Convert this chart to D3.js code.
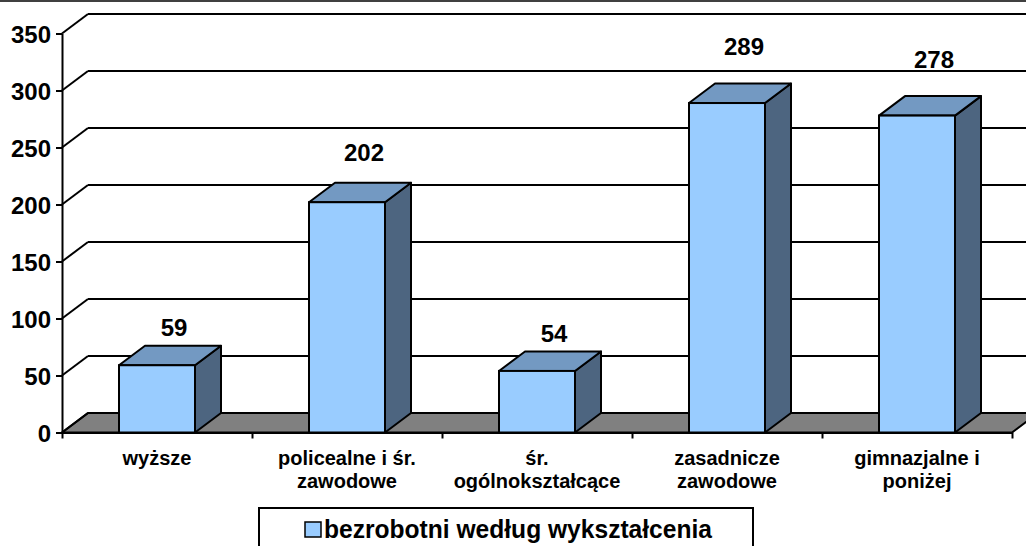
<!DOCTYPE html>
<html>
<head>
<meta charset="utf-8">
<script src="https://cdn.jsdelivr.net/npm/d3@7"></script>
<style>
  body { margin: 0; background: #fff; }
  svg { display: block; }
  text { font-family: Arial, "Liberation Sans", sans-serif; font-weight: bold; fill: #000; }
</style>
</head>
<body>
<svg id="chart" width="1026" height="546"></svg>
<script>
// data
let categories = ["wyższe", "policealne i śr.\nzawodowe", "śr.\nogólnokształcące", "zasadnicze\nzawodowe", "gimnazjalne i\nponiżej"]
let values = [59, 202, 54, 289, 278]
let yTicks = [0, 50, 100, 150, 200, 250, 300, 350]
let seriesName = "bezrobotni według wykształcenia"

// 3d look
let DX = 26, DY = 19.5
let frontColor = "#99ccff", topColor = "#7399c2", sideColor = "#4d6580", floorColor = "#808080"

let svg = d3.select("#chart")

let xScale = d3.scaleBand().domain(categories).range([62, 1012]).paddingInner(0.6).paddingOuter(0.3)
let xEdge = d3.scaleLinear().domain([0, categories.length]).range([62, 1012])
let yScale = d3.scaleLinear().domain([0, 350]).range([432.5, 33.5])

// top border of the chart area
svg.append("line").attr("x1", 0).attr("x2", 1026).attr("y1", 1).attr("y2", 1)
    .attr("stroke", "#000").attr("stroke-width", 1.5)

// floor
let y0 = yScale(0)
svg.append("path")
    .attr("d", `M${xEdge(0)},${y0} L${xEdge(0) + DX},${y0 - DY} L${xEdge(5) + DX},${y0 - DY} L${xEdge(5)},${y0} Z`)
    .attr("fill", floorColor).attr("stroke", "#000").attr("stroke-width", 2)

// back wall grid + side wall diagonals
let grid = svg.append("g")
yTicks.forEach(function (t) {
    let y = yScale(t)
    grid.append("line")
        .attr("x1", xEdge(0) + DX).attr("x2", 1030)
        .attr("y1", y - DY).attr("y2", y - DY)
        .attr("stroke", "#000").attr("stroke-width", 2)
    grid.append("line")
        .attr("x1", xEdge(0)).attr("x2", xEdge(0) + DX)
        .attr("y1", y).attr("y2", y - DY)
        .attr("stroke", "#000").attr("stroke-width", 2)
})

// bars
let bars = svg.selectAll(".bar").data(values).enter().append("g").attr("class", "bar")
bars.each(function (v, i) {
    let g = d3.select(this)
    let x0 = xScale(categories[i]), x1 = x0 + xScale.bandwidth()
    let yv = yScale(v)
    g.append("path")
        .attr("d", `M${x1},${yv} L${x1 + DX},${yv - DY} L${x1 + DX},${y0 - DY} L${x1},${y0} Z`)
        .attr("fill", sideColor).attr("stroke", "#000").attr("stroke-width", 2).attr("stroke-linejoin", "round")
    g.append("path")
        .attr("d", `M${x0},${yv} L${x0 + DX},${yv - DY} L${x1 + DX},${yv - DY} L${x1},${yv} Z`)
        .attr("fill", topColor).attr("stroke", "#000").attr("stroke-width", 2).attr("stroke-linejoin", "round")
    g.append("rect")
        .attr("x", x0).attr("y", yv).attr("width", x1 - x0).attr("height", y0 - yv)
        .attr("fill", frontColor).attr("stroke", "#000").attr("stroke-width", 2)
})

// value labels
svg.selectAll(".val").data(values).enter().append("text")
    .attr("class", "val")
    .attr("x", function (d, i) { return xScale(categories[i]) + xScale.bandwidth() / 2 + 17 })
    .attr("y", function (d) { return yScale(d) - DY - 14 - 0.08 * d })
    .attr("dy", "0.36em")
    .attr("text-anchor", "middle")
    .style("font-size", "24px")
    .text(function (d) { return d })

// y axis
let y_axis = d3.axisLeft(yScale).tickValues(yTicks).tickSize(6).tickSizeOuter(0).tickPadding(5)
let gy = svg.append("g").attr("transform", `translate(${xEdge(0)},0)`).call(y_axis)
gy.select(".domain").attr("stroke", "#000").attr("stroke-width", 2)
gy.selectAll(".tick line").attr("stroke", "#000").attr("stroke-width", 2)
gy.selectAll(".tick text").style("font-size", "24px").style("font-family", "Arial, 'Liberation Sans', sans-serif")
    .attr("fill", "#000").attr("dy", "0.36em")

// x axis (ticks at category boundaries)
let x_axis = d3.axisBottom(xEdge).tickValues(d3.range(0, categories.length + 1)).tickSize(6).tickSizeOuter(0).tickFormat("")
let gx = svg.append("g").attr("transform", `translate(0,${y0})`).call(x_axis)
gx.select(".domain").attr("stroke", "#000").attr("stroke-width", 2)
gx.selectAll(".tick line").attr("stroke", "#000").attr("stroke-width", 2)

// category labels
let catLabels = svg.selectAll(".cat").data(categories).enter().append("text")
    .attr("class", "cat")
    .attr("text-anchor", "middle")
    .style("font-size", "20px")
catLabels.each(function (d) {
    let t = d3.select(this)
    let cx = xScale(d) + xScale.bandwidth() / 2
    d.split("\n").forEach(function (line, k) {
        t.append("tspan").attr("x", cx).attr("y", 465 + k * 23).text(line)
    })
})

// legend
let legend = svg.append("g")
legend.append("rect").attr("x", 259).attr("y", 508).attr("width", 494).attr("height", 60)
    .attr("fill", "#fff").attr("stroke", "#000").attr("stroke-width", 2)
legend.append("rect").attr("x", 305).attr("y", 522).attr("width", 16).attr("height", 15)
    .attr("fill", frontColor).attr("stroke", "#000").attr("stroke-width", 1.5)
legend.append("text").attr("x", 324).attr("y", 538)
    .attr("textLength", 388).attr("lengthAdjust", "spacingAndGlyphs")
    .style("font-size", "25px")
    .text(seriesName)
</script>
</body>
</html>
